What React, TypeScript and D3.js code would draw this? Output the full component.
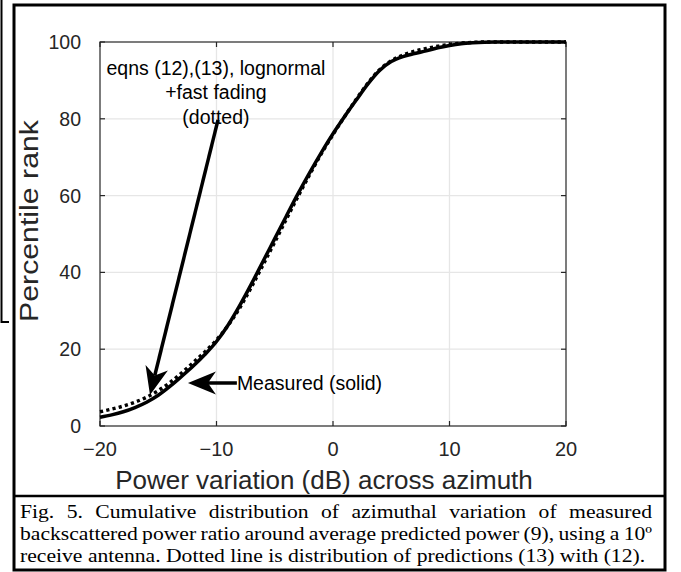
import React, { useMemo } from "react";
import * as d3 from "d3";

const powerDb = [-20,-19,-18,-17,-16,-15,-14,-13,-12,-11,-10,-9,-8,-7,-6,-5,-4,-3,-2,-1,0,1,2,3,4,5,6,7,8,9,10,11,12,13,14,15,16,17,18,19,20];
const measured = [2.3,2.9,3.7,4.8,6.2,8.0,10.3,12.9,15.6,18.6,22.0,26.3,31.4,37.0,42.9,48.8,54.7,60.5,66.0,71.2,76.1,80.6,84.9,89.1,92.6,94.9,96.2,97.0,97.7,98.5,99.1,99.55,99.8,99.95,100,100,100,100,100,100,100];
const predicted = [3.7,4.4,5.2,6.2,7.5,9.2,11.3,13.8,16.5,19.3,22.4,26.2,30.8,36.2,42.0,47.9,53.9,59.8,65.5,70.9,75.9,80.6,85.1,89.3,92.8,95.1,96.6,97.6,98.3,98.9,99.4,99.7,99.9,100,100,100,100,100,100,100,100];

const xTicks = [-20,-10,0,10,20];
const yTicks = [0,20,40,60,80,100];
const xLabel = "Power variation (dB) across azimuth";
const yLabel = "Percentile rank";
const noteDotted = ["eqns (12),(13), lognormal", "+fast fading", "(dotted)"];
const noteMeasured = "Measured (solid)";
const captionLines = [
  "Fig. 5. Cumulative distribution of azimuthal variation of measured",
  "backscattered power ratio around average predicted power (9), using a 10\u00BA",
  "receive antenna. Dotted line is distribution of predictions (13) with (12).",
];

const SANS = "'Liberation Sans', Arial, Helvetica, sans-serif";
const SERIF = "'Liberation Serif', 'Times New Roman', serif";

function arrowHead(tx: number, ty: number, fx: number, fy: number, L = 28, w = 11.5, n = 8) {
  const dx = tx - fx, dy = ty - fy;
  const len = Math.hypot(dx, dy);
  const ux = dx / len, uy = dy / len;
  const px = -uy, py = ux;
  const bx = tx - ux * L, by = ty - uy * L;
  const nx = tx - ux * (L - n), ny = ty - uy * (L - n);
  return {
    head: `M${tx},${ty}L${bx + px * w},${by + py * w}L${nx},${ny}L${bx - px * w},${by - py * w}Z`,
    notch: [nx, ny] as [number, number],
  };
}

export default function App() {
  const W = 681, H = 572;
  const x = d3.scaleLinear().domain([-20, 20]).range([100, 566]);
  const y = d3.scaleLinear().domain([0, 100]).range([426, 42]);
  const line = d3.line<number>().x((_, i) => x(powerDb[i])).y((d) => y(d)).curve(d3.curveMonotoneX);

  const capFont = 19.5;
  const capSX = 1.11;
  const capLeft = 20, capRight = 652;
  const justified = useMemo(() => {
    const c = document.createElement("canvas").getContext("2d")!;
    c.font = `${capFont}px 'Liberation Serif'`;
    const L = capLeft / capSX, R = capRight / capSX;
    return captionLines.map((ln, li) => {
      const words = ln.split(" ");
      const widths = words.map((w) => c.measureText(w).width);
      const total = widths.reduce((a, b) => a + b, 0);
      const space = c.measureText(" ").width;
      const gap = li < 2 ? (R - L - total) / (words.length - 1) : space;
      let cx = L;
      return words.map((w, i) => {
        const pos = cx;
        cx += widths[i] + gap;
        return { w, pos };
      });
    });
  }, []);

  const dTail: [number, number] = [x(-9.87), y(79.7)];
  const dTip: [number, number] = [x(-15.71), y(8.1)];
  const dA = arrowHead(dTip[0], dTip[1], dTail[0], dTail[1]);
  const mTip: [number, number] = [x(-12.45), y(11.2)];
  const mTail: [number, number] = [x(-8.25), y(11.2)];
  const mA = arrowHead(mTip[0], mTip[1], mTail[0], mTail[1]);

  const fmt = (t: number) => (t < 0 ? "\u2212" + Math.abs(t) : String(t));

  return (
    <svg width={W} height={H} style={{ position: "absolute", left: 0, top: 0, background: "#fff" }}>
      <rect x={0} y={0} width={W} height={H} fill="#fff" />
      <path d="M1.5,0V322H9" fill="none" stroke="#000" strokeWidth={2} />
      <rect x={14} y={5} width={651} height={565} fill="none" stroke="#000" strokeWidth={3} />
      <line x1={14} x2={665} y1={496} y2={496} stroke="#000" strokeWidth={2.5} />

      {xTicks.slice(1, -1).map((t) => (
        <line key={"gx" + t} x1={x(t)} x2={x(t)} y1={y(0)} y2={y(100)} stroke="#e6e6e6" strokeWidth={1.3} />
      ))}
      {yTicks.slice(1, -1).map((t) => (
        <line key={"gy" + t} x1={x(-20)} x2={x(20)} y1={y(t)} y2={y(t)} stroke="#e6e6e6" strokeWidth={1.3} />
      ))}
      <rect x={x(-20)} y={y(100)} width={x(20) - x(-20)} height={y(0) - y(100)} fill="none" stroke="#262626" strokeWidth={1.2} />
      {xTicks.map((t) => (
        <g key={"tx" + t}>
          <line x1={x(t)} x2={x(t)} y1={y(0)} y2={y(0) - 5} stroke="#262626" strokeWidth={1.2} />
          <line x1={x(t)} x2={x(t)} y1={y(100)} y2={y(100) + 5} stroke="#262626" strokeWidth={1.2} />
          <text x={x(t)} y={y(0) + 30} textAnchor="middle" fontFamily={SANS} fontSize={20} fill="#262626">
            {fmt(t)}
          </text>
        </g>
      ))}
      {yTicks.map((t) => (
        <g key={"ty" + t}>
          <line x1={x(-20)} x2={x(-20) + 5} y1={y(t)} y2={y(t)} stroke="#262626" strokeWidth={1.2} />
          <line x1={x(20)} x2={x(20) - 5} y1={y(t)} y2={y(t)} stroke="#262626" strokeWidth={1.2} />
          <text x={x(-20) - 19} y={y(t) + 7} textAnchor="end" fontFamily={SANS} fontSize={19.5} fill="#262626">
            {t}
          </text>
        </g>
      ))}
      <text x={324} y={489} textAnchor="middle" fontFamily={SANS} fontSize={26} fill="#262626">{xLabel}</text>
      <text transform={`translate(38,221) rotate(-90)`} textAnchor="middle" fontFamily={SANS} fontSize={26.5} textLength={202} lengthAdjust="spacingAndGlyphs" fill="#262626">{yLabel}</text>

      <path d={line(predicted) || ""} fill="none" stroke="#000" strokeWidth={3.5} strokeDasharray="3.2 3.2" />
      <path d={line(measured) || ""} fill="none" stroke="#000" strokeWidth={3.5} />

      {noteDotted.map((s, i) => (
        <text key={s} x={x(-10.05)} y={y(91.5) + i * 24.5} textAnchor="middle" fontFamily={SANS} fontSize={19.5} fill="#000">{s}</text>
      ))}
      <line x1={dTail[0]} y1={dTail[1]} x2={dA.notch[0]} y2={dA.notch[1]} stroke="#000" strokeWidth={3.5} />
      <path d={dA.head} fill="#000" />
      <line x1={mTail[0]} y1={mTail[1]} x2={mA.notch[0]} y2={mA.notch[1]} stroke="#000" strokeWidth={3.5} />
      <path d={mA.head} fill="#000" />
      <text x={mTail[0]} y={mTail[1] + 7} fontFamily={SANS} fontSize={19.5} fill="#000">{noteMeasured}</text>

      {justified.map((words, li) => (
        <text key={li} transform={`scale(${capSX},1)`} y={518 + li * 22} fontFamily={SERIF} fontSize={capFont} fill="#000">
          {words.map((w, i) => (
            <tspan key={i} x={w.pos}>{w.w}</tspan>
          ))}
        </text>
      ))}
    </svg>
  );
}
